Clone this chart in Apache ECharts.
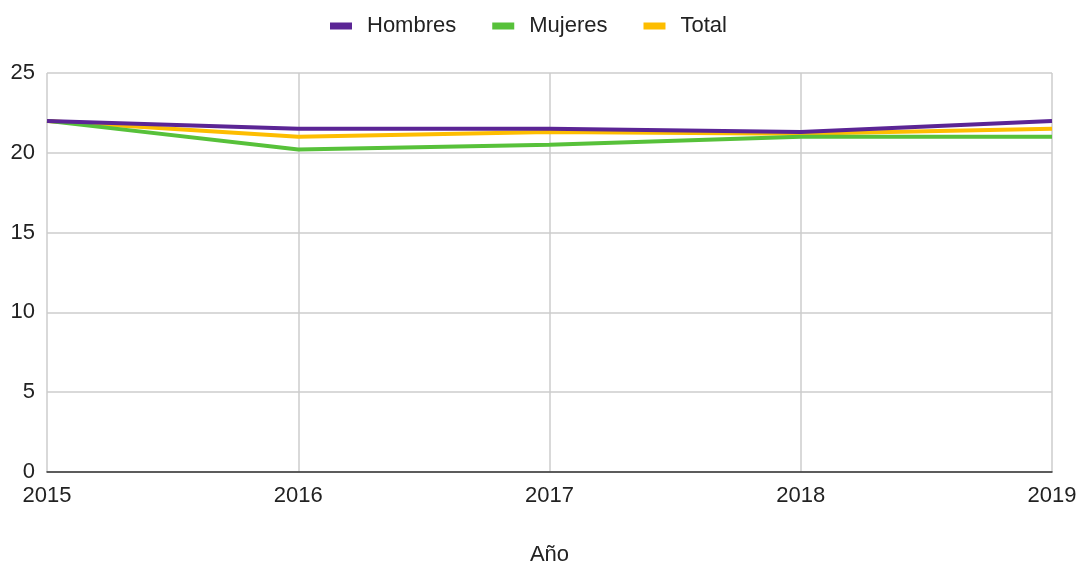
<!DOCTYPE html>
<html>
<head>
<meta charset="utf-8">
<script src="https://cdn.jsdelivr.net/npm/echarts@6/dist/echarts.min.js"></script>
<style>html,body{margin:0;padding:0;background:#fff}#c{width:1084px;height:565px}</style>
</head>
<body>
<div id="c"></div>
<script>
var years = ['2015', '2016', '2017', '2018', '2019'];
var hombres = [22.0, 21.5, 21.5, 21.3, 22.0];
var mujeres = [22.0, 20.2, 20.5, 21.0, 21.0];
var total = [22.0, 21.0, 21.3, 21.2, 21.5];
var yTicks = [0, 5, 10, 15, 20, 25];

var font = 'Liberation Sans, Arial, sans-serif';
var chart = echarts.init(document.getElementById('c'));
chart.setOption({
  animation: false,
  textStyle: {fontFamily: font},
  legend: {
    top: 10, left: 325, itemWidth: 22, itemHeight: 7, itemGap: 36,
    icon: 'rect',
    textStyle: {fontSize: 22, color: '#222', fontFamily: font, padding: [0, 0, 0, 10]},
    data: ['Hombres', 'Mujeres', 'Total']
  },
  grid: {left: 47, right: 32, top: 73, bottom: 93, containLabel: false, outerBoundsMode: 'none'},
  xAxis: {
    type: 'category', data: years, boundaryGap: false,
    name: 'Año', nameLocation: 'middle', nameGap: 72,
    nameTextStyle: {fontSize: 22, color: '#222', fontFamily: font},
    axisLine: {lineStyle: {color: '#333', width: 1.5}},
    axisTick: {show: false},
    axisLabel: {fontSize: 22, color: '#222', margin: 13, fontFamily: font},
    splitLine: {show: true, lineStyle: {color: '#cccccc', width: 1.5}}
  },
  yAxis: {
    type: 'value', min: yTicks[0], max: yTicks[yTicks.length - 1], interval: 5,
    axisLine: {show: false}, axisTick: {show: false},
    axisLabel: {fontSize: 22, color: '#222', margin: 12, fontFamily: font, padding: [4, 0, 0, 0]},
    splitLine: {lineStyle: {color: '#cccccc', width: 1.5}}
  },
  series: [
    {name: 'Hombres', type: 'line', data: hombres, symbol: 'none', color: '#5b2595', lineStyle: {width: 4}, z: 3},
    {name: 'Mujeres', type: 'line', data: mujeres, symbol: 'none', color: '#57c13a', lineStyle: {width: 4}, z: 2},
    {name: 'Total', type: 'line', data: total, symbol: 'none', color: '#fdbd00', lineStyle: {width: 4}, z: 1}
  ]
});
</script>
</body>
</html>
